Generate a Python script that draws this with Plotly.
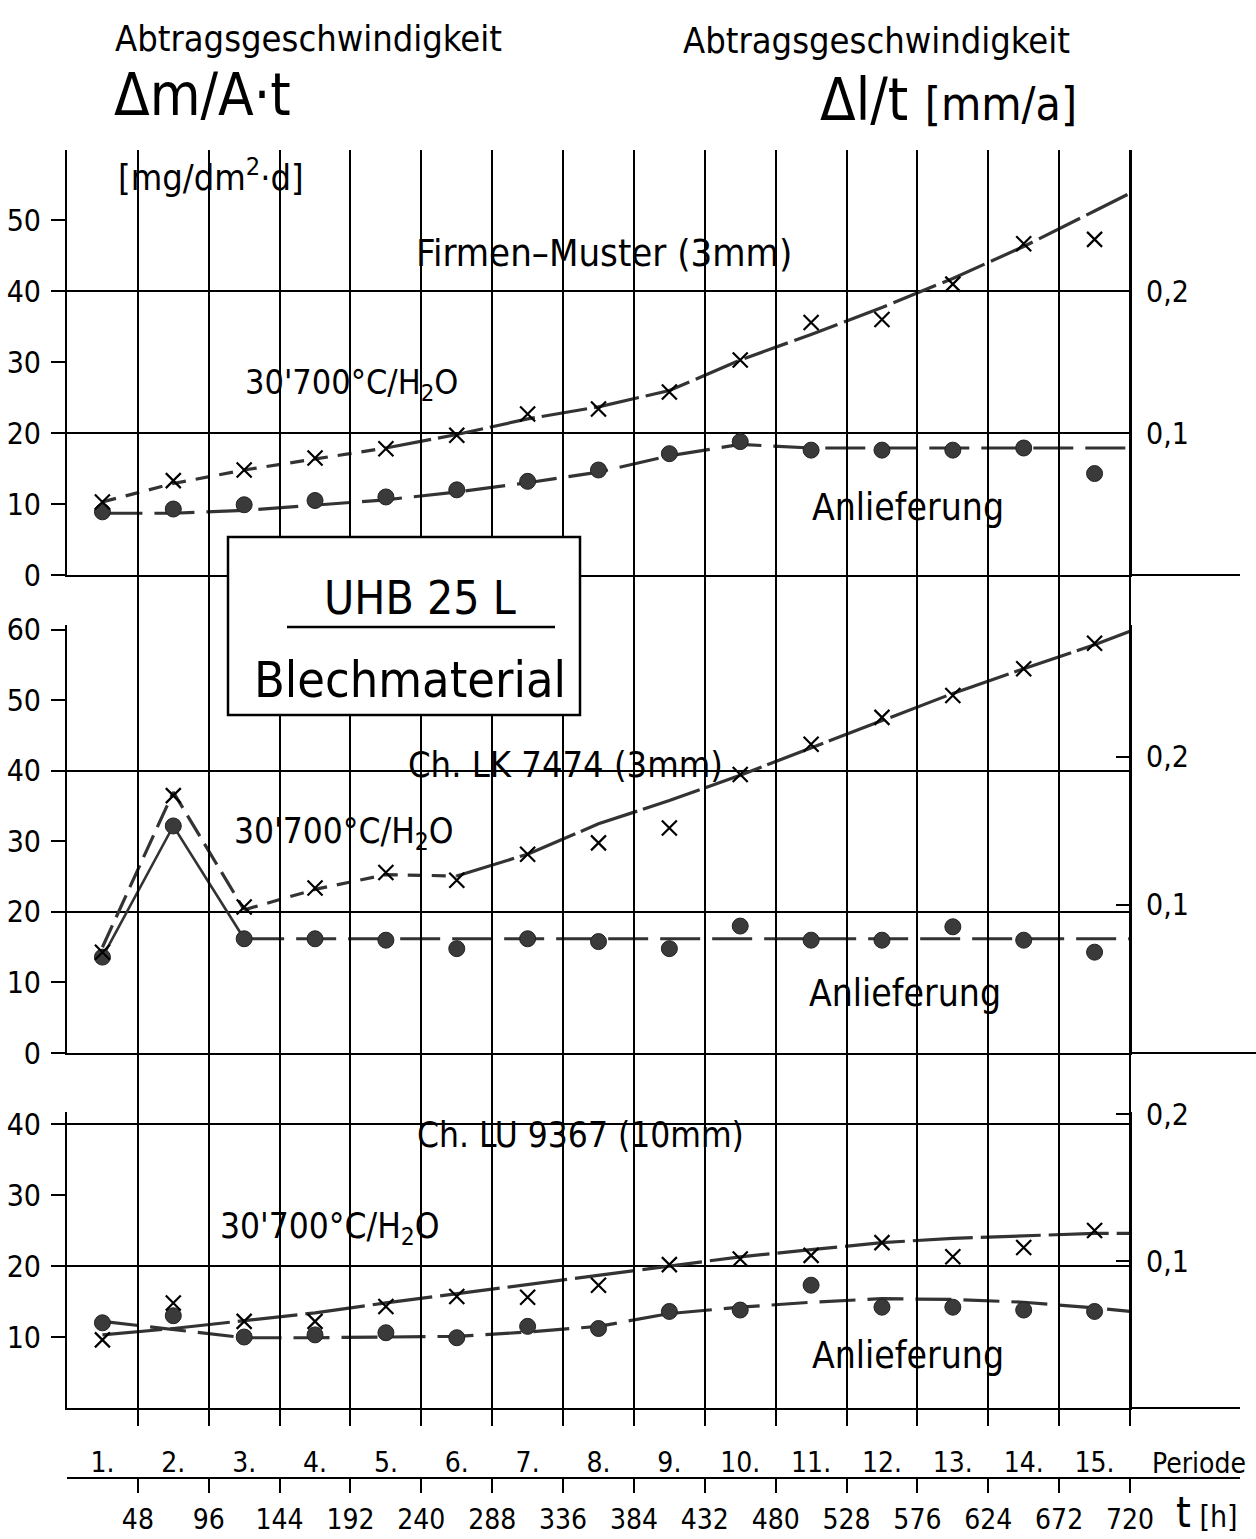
import plotly.graph_objects as go

FONT = "DejaVu Sans Condensed, Liberation Sans Narrow, Roboto, sans-serif"

# ---------------- data ----------------
t_centers = [24, 72, 120, 168, 216, 264, 312, 360, 408, 456, 504, 552, 600, 648, 696]
t_fit = [24, 72, 120, 168, 216, 264, 312, 360, 408, 456, 504, 552, 600, 648, 696, 720]
period_labels = ["1.", "2.", "3.", "4.", "5.", "6.", "7.", "8.", "9.", "10.", "11.", "12.", "13.", "14.", "15."]
time_ticks = [48, 96, 144, 192, 240, 288, 336, 384, 432, 480, 528, 576, 624, 672, 720]
time_labels = [str(v) for v in time_ticks]
grid_times = time_ticks[:-1]

# Firmen-Muster (3 mm)
top_quench = [10.3, 13.3, 14.8, 16.5, 17.8, 19.7, 22.7, 23.4, 25.8, 30.3, 35.6, 36.0, 41.0, 46.7, 47.3]
top_deliv = [8.9, 9.3, 9.9, 10.5, 11.0, 12.0, 13.2, 14.8, 17.1, 18.8, 17.6, 17.6, 17.6, 17.9, 14.3]
top_quench_fit = [10.3, 12.9, 14.8, 16.4, 17.9, 19.8, 22.0, 23.7, 26.0, 30.3, 33.9, 37.7, 41.8, 46.3, 51.3, 53.8]
top_deliv_fit = [8.7, 8.7, 9.1, 9.8, 10.6, 11.7, 13.0, 14.5, 16.8, 18.4, 17.9, 17.9, 17.9, 17.9, 17.9, 17.9]

# Ch. LK 7474 (3 mm)
mid_quench = [14.3, 36.5, 20.7, 23.4, 25.6, 24.5, 28.2, 29.8, 31.9, 39.5, 43.8, 47.6, 50.7, 54.5, 58.1]
mid_deliv = [13.6, 32.2, 16.2, 16.2, 16.0, 14.8, 16.2, 15.8, 14.8, 18.0, 16.0, 16.0, 17.9, 16.0, 14.3]
mid_quench_fit = [15.0, 37.0, 20.3, 23.2, 25.3, 25.1, 28.2, 32.5, 35.8, 39.4, 43.3, 47.2, 51.0, 54.5, 57.9, 59.8]
mid_deliv_fit = [13.6, 32.2, 16.2, 16.2, 16.2, 16.2, 16.2, 16.2, 16.2, 16.2, 16.2, 16.2, 16.2, 16.2, 16.2, 16.2]

# Ch. LU 9367 (10 mm)
bot_quench = [9.6, 14.8, 12.2, 12.2, 14.3, 15.7, 15.6, 17.3, 20.2, 21.0, 21.5, 23.3, 21.3, 22.6, 25.0]
bot_deliv = [12.0, 13.0, 10.0, 10.3, 10.6, 9.9, 11.5, 11.2, 13.6, 13.8, 17.3, 14.2, 14.2, 13.8, 13.6]
bot_quench_fit = [10.3, 11.2, 12.3, 13.4, 14.8, 16.1, 17.3, 18.6, 20.0, 21.3, 22.3, 23.3, 23.9, 24.3, 24.6, 24.6]
bot_deliv_fit = [12.2, 11.0, 9.9, 9.9, 10.0, 10.1, 10.7, 11.5, 13.3, 14.2, 14.9, 15.4, 15.3, 14.9, 14.1, 13.6]

left_ticks_top = [0, 10, 20, 30, 40, 50]
left_ticks_mid = [0, 10, 20, 30, 40, 50, 60]
left_ticks_bot = [10, 20, 30, 40]
grid_vals = [20, 40]
right_ticks = [0.1, 0.2]
right_labels = ["0,1", "0,2"]

# ---------------- page geometry ----------------
FW, FH = 1256, 1539


def px(x):
    return x / FW


def py(y):
    return 1 - y / FH


X0, X1 = 67, 1130
xdom = [px(X0), px(X1)]

panels = [
    dict(y0=575, y1=150, ymax=59.9, f=200.0),
    dict(y0=1053, y1=625, ymax=60.7, f=210.0),
    dict(y0=1408, y1=1112, ymax=41.7, f=207.0),
]

fig = go.Figure()

LINEC = "#333333"
DOTC = "#3a3a3a"


def add_line(xs, ys, xa, ya, dash, width=3.2):
    fig.add_trace(go.Scatter(x=xs, y=ys, mode="lines", xaxis=xa, yaxis=ya,
                             line=dict(color=LINEC, width=width, dash=dash),
                             hoverinfo="skip", showlegend=False))


def add_marks(ys_q, ys_d, xa, ya):
    fig.add_trace(go.Scatter(x=t_centers, y=ys_d, mode="markers", xaxis=xa, yaxis=ya,
                             marker=dict(symbol="circle", size=16, color=DOTC,
                                         line=dict(color="#222", width=1)),
                             showlegend=False, name="Anlieferung"))
    fig.add_trace(go.Scatter(x=t_centers, y=ys_q, mode="markers", xaxis=xa, yaxis=ya,
                             marker=dict(symbol="x-thin", size=15,
                                         line=dict(color="black", width=2.2)),
                             showlegend=False, name="30'700°C/H2O"))


# full-height grid subplot (vertical 48 h lines run through all panels)
fig.add_trace(go.Scatter(x=[None], y=[None], xaxis="x5", yaxis="y7", showlegend=False,
                         hoverinfo="skip", mode="markers"))

# top panel
add_line(t_fit[:5], top_quench_fit[:5], "x", "y", "14px,10px")
add_line(t_fit[4:], top_quench_fit[4:], "x", "y", "46px,7px")
add_line(t_fit, top_deliv_fit, "x", "y", "40px,12px")
add_marks(top_quench, top_deliv, "x", "y")

# middle panel
add_line(t_fit[:3], mid_quench_fit[:3], "x2", "y2", "24px,9px")
add_line(t_fit[2:6], mid_quench_fit[2:6], "x2", "y2", "14px,10px")
add_line(t_fit[5:], mid_quench_fit[5:], "x2", "y2", "60px,6px")
add_line(t_fit[:3], mid_deliv_fit[:3], "x2", "y2", "solid", 2.6)
add_line(t_fit[2:], mid_deliv_fit[2:], "x2", "y2", "40px,12px")
add_marks(mid_quench, mid_deliv, "x2", "y2")

# bottom panel
add_line(t_fit, bot_quench_fit, "x3", "y3", "60px,8px")
add_line(t_fit, bot_deliv_fit, "x3", "y3", "36px,12px")
add_marks(bot_quench, bot_deliv, "x3", "y3")

# dummy traces so the secondary axes exist
for xa, ya in [("x", "y4"), ("x2", "y5"), ("x3", "y6"), ("x4", "y3")]:
    fig.add_trace(go.Scatter(x=[None], y=[None], xaxis=xa, yaxis=ya, showlegend=False,
                             hoverinfo="skip", mode="markers"))

tickfont = dict(family=FONT, size=30, color="black")
smallfont = dict(family=FONT, size=28, color="black")

xcommon = dict(domain=xdom, range=[0, 720], showgrid=False, showticklabels=False, ticks="",
               showline=True, linecolor="black", linewidth=2, zeroline=False)

layout = dict(
    width=FW, height=FH, margin=dict(l=0, r=0, t=0, b=0, autoexpand=False),
    paper_bgcolor="white", plot_bgcolor="rgba(0,0,0,0)", showlegend=False,
    font=dict(family=FONT, color="black"),
    xaxis=dict(anchor="y", **xcommon),
    xaxis2=dict(anchor="y2", **xcommon),
    xaxis3=dict(anchor="y3", domain=xdom, range=[0, 720], tickmode="array",
                tickvals=t_centers, ticktext=period_labels, ticks="", showgrid=False,
                ticklabelstandoff=28, tickfont=smallfont,
                minor=dict(tickmode="array", tickvals=time_ticks, ticks="outside", ticklen=16,
                           tickwidth=2, tickcolor="black", showgrid=False),
                showline=True, linecolor="black", linewidth=2, zeroline=False),
    xaxis4=dict(overlaying="x3", anchor="free", position=py(1478), domain=xdom, range=[0, 720],
                tickmode="array", tickvals=time_ticks, ticktext=time_labels, ticks="outside",
                ticklen=14, tickwidth=2, tickcolor="black", showgrid=False, showline=True,
                linecolor="black", linewidth=2, tickfont=smallfont, ticklabelstandoff=2,
                zeroline=False, side="bottom"),
    xaxis5=dict(anchor="y7", domain=xdom, range=[0, 720], tickmode="array", tickvals=grid_times,
                showgrid=True, gridcolor="black", gridwidth=1.5, showticklabels=False, ticks="",
                showline=False, zeroline=False),
    yaxis7=dict(anchor="x5", domain=[py(1408), py(150)], range=[0, 1], visible=False),
)

right_names = ["yaxis4", "yaxis5", "yaxis6"]
left_names = ["yaxis", "yaxis2", "yaxis3"]
left_ticks = [left_ticks_top, left_ticks_mid, left_ticks_bot]
xnames = ["x", "x2", "x3"]
ynames = ["y", "y2", "y3"]
for i, p in enumerate(panels):
    dom = [py(p["y0"]), py(p["y1"])]
    layout[left_names[i]] = dict(
        anchor=xnames[i], domain=dom, range=[0, p["ymax"]], tickmode="array",
        tickvals=left_ticks[i], ticks="outside", ticklen=14, tickwidth=2, tickcolor="black",
        showline=True, linecolor="black", linewidth=2, showgrid=False, zeroline=False,
        tickfont=tickfont, ticklabelstandoff=4,
        minor=dict(tickmode="array", tickvals=grid_vals, ticks="", showgrid=True,
                   gridcolor="black", gridwidth=1.5))
    layout[right_names[i]] = dict(
        anchor=xnames[i], overlaying=ynames[i], side="right", range=[0, p["ymax"] / p["f"]],
        tickmode="array", tickvals=right_ticks, ticktext=right_labels, ticks="inside",
        ticklen=14, tickwidth=2, tickcolor="black", showline=True, linecolor="black",
        linewidth=2, showgrid=False, zeroline=False, tickfont=tickfont, ticklabelstandoff=8)

fig.update_layout(**layout)

# ---------------- decorations ----------------
shapes = []
# extended baselines beyond right axis
for yline, xend in [(575, 1240), (1053, 1256), (1408, 1240), (1478, 1240)]:
    shapes.append(dict(type="line", xref="paper", yref="paper", x0=px(X1), x1=px(xend),
                       y0=py(yline), y1=py(yline), line=dict(color="black", width=2)))
# continuous right frame line
shapes.append(dict(type="line", xref="paper", yref="paper", x0=px(X1), x1=px(X1),
                   y0=py(150), y1=py(1408), line=dict(color="black", width=2)))
# material box
shapes.append(dict(type="rect", xref="paper", yref="paper", x0=px(228), x1=px(580),
                   y0=py(715), y1=py(537), fillcolor="white", line=dict(color="black", width=2.5),
                   layer="above"))
shapes.append(dict(type="line", xref="paper", yref="paper", x0=px(287), x1=px(555),
                   y0=py(627), y1=py(627), line=dict(color="black", width=2.5), layer="above"))
fig.update_layout(shapes=shapes)


def ann(text, x, y, size, xanchor="center"):
    fig.add_annotation(text=text, x=px(x), y=py(y), xref="paper", yref="paper",
                       xanchor=xanchor, yanchor="middle", showarrow=False,
                       font=dict(family=FONT, size=size, color="black"))


ann("Abtragsgeschwindigkeit", 308, 38, 36)
ann("Δm/A·t", 112, 95, 58, "left")
ann("[mg/dm<sup>2</sup>·d]", 116, 175, 36, "left")
ann("Abtragsgeschwindigkeit", 876, 40, 36)
ann("Δl/t <span style='font-size:46px'>[mm/a]</span>", 818, 100, 58, "left")

sub = "30'700°C/H<sub>2</sub>O"
ann("Firmen–Muster (3mm)", 604, 253, 38)
ann(sub, 243, 385, 34, "left")
ann("Anlieferung", 908, 507, 37)

ann("Ch. LK 7474 (3mm)", 565, 765, 36)
ann(sub, 232, 833, 35, "left")
ann("Anlieferung", 905, 993, 37)

ann("Ch. LU 9367 (10mm)", 580, 1135, 35)
ann(sub, 218, 1228, 35, "left")
ann("Anlieferung", 908, 1355, 37)

ann("UHB 25 L", 420, 598, 46)
ann("Blechmaterial", 410, 680, 50)

ann("Periode", 1199, 1463, 28)
ann("<span style='font-size:42px'>t</span> [h]", 1207, 1512, 30)

fig.write_html("out.html", config={"displayModeBar": False},
               post_script="document.body.style.margin='0';document.body.style.overflow='hidden';")
